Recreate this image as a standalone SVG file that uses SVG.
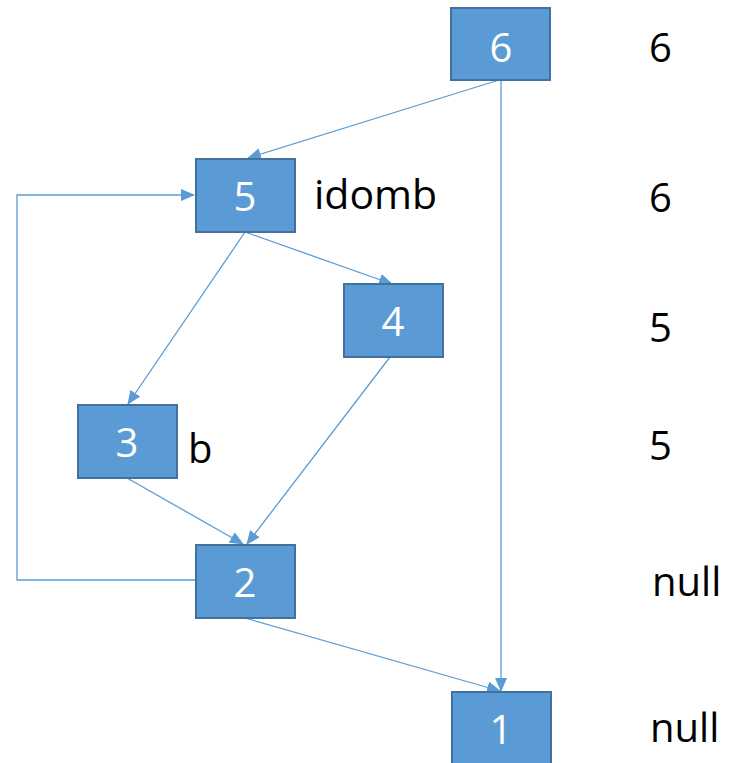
<svg xmlns="http://www.w3.org/2000/svg" width="736" height="763" viewBox="0 0 736 763">
<style>
.node rect{fill:#5B9BD5;stroke:#41719C;stroke-width:2}
.node text{fill:#fff;font-family:"Open Sans","Liberation Sans",sans-serif;font-size:40px;text-anchor:middle}
.lbl{fill:#000;font-family:"Open Sans","Liberation Sans",sans-serif;font-size:40px}
.edge{stroke:#5B9BD5;stroke-width:1.3;fill:none;marker-end:url(#ah)}
</style>
<defs>
<marker id="ah" markerUnits="userSpaceOnUse" markerWidth="14" markerHeight="12" refX="13" refY="6" orient="auto">
<path d="M0,0 L14,6 L0,12 Z" fill="#5B9BD5"/>
</marker>
</defs>
<rect width="736" height="763" fill="#fff"/>
<g id="connectors">
<path class="edge" d="M499,80 L248,158"/>
<path class="edge" d="M501,80 L501,691"/>
<path class="edge" d="M245,232 L128,404"/>
<path class="edge" d="M245,232 L392,284"/>
<path class="edge" d="M390,357 L247,544"/>
<path class="edge" d="M127,478 L243,544"/>
<path class="edge" d="M245,618 L500,691"/>
<path class="edge" d="M196,580 L17,580 L17,195 L194,195"/>
</g>
<g id="n6" class="node"><rect x="451" y="8" width="99" height="72"/><text x="501" y="62">6</text></g>
<g id="n5" class="node"><rect x="196" y="159" width="99" height="73"/><text x="245" y="211">5</text></g>
<g id="n4" class="node"><rect x="344" y="284" width="99" height="73"/><text x="393" y="336">4</text></g>
<g id="n3" class="node"><rect x="78" y="405" width="99" height="73"/><text x="127" y="457">3</text></g>
<g id="n2" class="node"><rect x="196" y="545" width="99" height="73"/><text x="245" y="597">2</text></g>
<g id="n1" class="node"><rect x="452" y="692" width="99" height="80"/><text x="501" y="744">1</text></g>
<text class="lbl" x="314" y="209" style="font-size:41px">idomb</text>
<text class="lbl" x="188" y="463">b</text>
<text class="lbl" x="649" y="62">6</text>
<text class="lbl" x="649" y="212">6</text>
<text class="lbl" x="649" y="342">5</text>
<text class="lbl" x="649" y="460">5</text>
<text class="lbl" x="652" y="596">null</text>
<text class="lbl" x="650" y="742">null</text>
</svg>
